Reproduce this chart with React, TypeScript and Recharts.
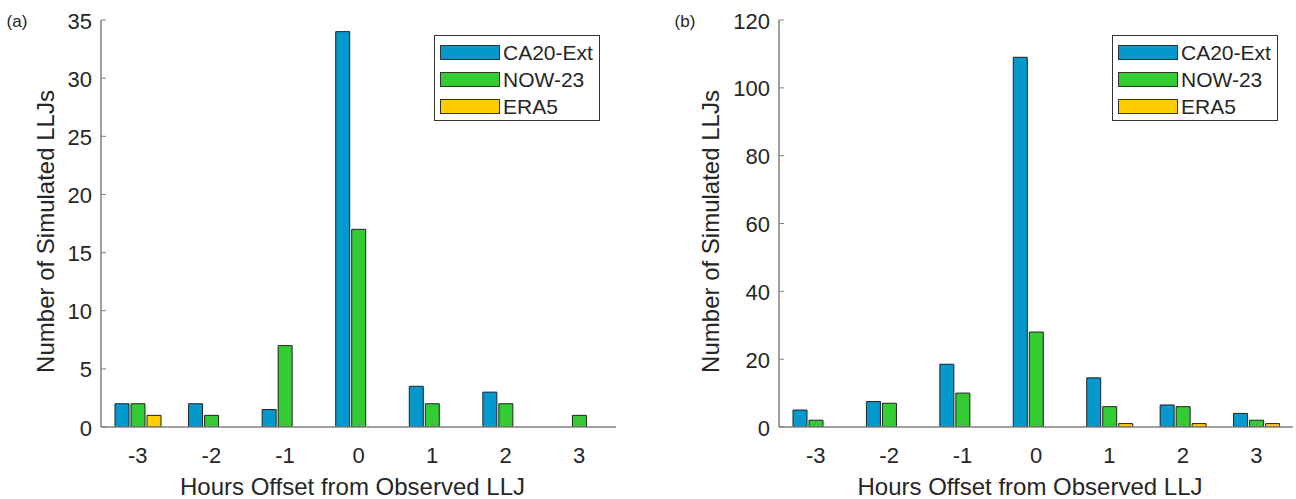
import { BarChart, Bar, XAxis, YAxis, Legend, Label } from "recharts";

const hours = [-3, -2, -1, 0, 1, 2, 3];

// panel (a)
const ca20ExtA = [2, 2, 1.5, 34, 3.5, 3, 0];
const now23A = [2, 1, 7, 17, 2, 2, 1];
const era5A = [1, 0, 0, 0, 0, 0, 0];
const yTicksA = [0, 5, 10, 15, 20, 25, 30, 35];

// panel (b)
const ca20ExtB = [5, 7.5, 18.5, 109, 14.5, 6.5, 4];
const now23B = [2, 7, 10, 28, 6, 6, 2];
const era5B = [0, 0, 0, 0, 1, 1, 1];
const yTicksB = [0, 20, 40, 60, 80, 100, 120];

const seriesNames = ["CA20-Ext", "NOW-23", "ERA5"];
const COLORS = ["#0399CC", "#33CC33", "#FFCC00"];

const FONT = "'Liberation Sans', Arial, sans-serif";
const TEXT = "#262626";
const AXIS = "#808080";

const toRows = (a: number[], b: number[], c: number[]) =>
  hours.map((h, i) => ({ hour: h, ca20: a[i], now23: b[i], era5: c[i] }));

const BottomTick = (props: any) => {
  const { x, y, payload } = props;
  return (
    <g>
      <line x1={x} y1={y} x2={x} y2={y - 5} stroke={AXIS} />
      <text x={x} y={y + 28} textAnchor="middle" dominantBaseline="central" fontSize={22} fill={TEXT} fontFamily={FONT}>
        {payload.value}
      </text>
    </g>
  );
};

const TopTick = (props: any) => {
  const { x, y } = props;
  return <line x1={x} y1={y} x2={x} y2={y + 5} stroke={AXIS} />;
};

const LeftTick = (props: any) => {
  const { x, y, payload } = props;
  return (
    <g>
      <line x1={x} y1={y} x2={x + 5} y2={y} stroke={AXIS} />
      <text x={x - 9} y={y + 1} textAnchor="end" dominantBaseline="central" fontSize={22} fill={TEXT} fontFamily={FONT}>
        {payload.value}
      </text>
    </g>
  );
};

const RightTick = (props: any) => {
  const { x, y } = props;
  return <line x1={x} y1={y} x2={x - 5} y2={y} stroke={AXIS} />;
};

const LegendBox = (props: any) => {
  const items = [...(props.payload || [])].sort(
    (a: any, b: any) => seriesNames.indexOf(a.value) - seriesNames.indexOf(b.value)
  );
  return (
    <div
      style={{
        border: "1px solid #333",
        background: "#fff",
        width: 166,
        height: 86,
        boxSizing: "border-box",
        paddingTop: 3,
        fontFamily: FONT,
        fontSize: 21,
        color: TEXT,
      }}
    >
      {items.map((entry: any) => (
        <div key={entry.value} style={{ display: "flex", alignItems: "center", height: 27 }}>
          <div
            style={{
              width: 60,
              height: 15,
              marginLeft: 5,
              marginRight: 3,
              background: entry.color,
              border: "1px solid #333",
              boxSizing: "border-box",
            }}
          />
          <span>{entry.value}</span>
        </div>
      ))}
    </div>
  );
};

type PanelProps = {
  tag: string;
  rows: any[];
  max: number;
  ticks: number[];
  width: number;
  marginLeft: number;
  marginRight: number;
  yLabelDx: number;
  tagX: number;
  legendLeft: number;
};

const Panel = ({ tag, rows, max, ticks, width, marginLeft, marginRight, yLabelDx, tagX, legendLeft }: PanelProps) => (
  <BarChart
    width={width}
    height={499}
    data={rows}
    margin={{ top: 20, right: marginRight, bottom: 32, left: marginLeft }}
    barSize={14}
    barGap={2}
    barCategoryGap="18%"
  >
    <XAxis
      dataKey="hour"
      height={40}
      stroke={AXIS}
      strokeWidth={1.5}
      tickSize={0}
      tickMargin={0}
      interval={0}
      tickLine={false}
      tick={BottomTick}
    >
      <Label
        content={(p: any) => {
          const vb = p.viewBox || {};
          return (
            <text
              x={vb.x + vb.width / 2 - 6}
              y={vb.y + 59}
              textAnchor="middle"
              dominantBaseline="central"
              fontSize={24}
              fill={TEXT}
              fontFamily={FONT}
            >
              Hours Offset from Observed LLJ
            </text>
          );
        }}
      />
    </XAxis>
    <XAxis
      xAxisId="top"
      dataKey="hour"
      orientation="top"
      height={0}
      stroke={AXIS}
      strokeWidth={1.5}
      tickSize={0}
      tickMargin={0}
      interval={0}
      tickLine={false}
      tick={TopTick}
    />
    <YAxis
      domain={[0, max]}
      ticks={ticks}
      type="number"
      width={60}
      stroke={AXIS}
      strokeWidth={1.5}
      tickSize={0}
      tickMargin={0}
      interval={0}
      tickLine={false}
      tick={LeftTick}
      allowDataOverflow
    >
      <Label
        content={(p: any) => {
          const vb = p.viewBox || {};
          const cx = vb.x + yLabelDx;
          const cy = 20 + 407 / 2 + 8;
          return (
            <g>
              <text
                x={cx}
                y={cy}
                transform={`rotate(-90 ${cx} ${cy})`}
                textAnchor="middle"
                dominantBaseline="central"
                fontSize={24}
                fill={TEXT}
                fontFamily={FONT}
              >
                Number of Simulated LLJs
              </text>
              <text x={tagX} y={21} textAnchor="middle" dominantBaseline="central" fontSize={17} fill={TEXT} fontFamily={FONT}>
                {tag}
              </text>
            </g>
          );
        }}
      />
    </YAxis>
    <YAxis
      yAxisId="right"
      orientation="right"
      domain={[0, max]}
      ticks={ticks}
      type="number"
      width={0}
      stroke={AXIS}
      strokeWidth={1.5}
      tickSize={0}
      tickMargin={0}
      interval={0}
      tickLine={false}
      tick={RightTick}
    />
    <Legend
      content={LegendBox}
      layout="horizontal"
      verticalAlign="middle"
      align="center"
      wrapperStyle={{ position: "absolute", top: 35, left: legendLeft, width: 166, height: 86 }}
    />
    <Bar dataKey="ca20" name={seriesNames[0]} fill={COLORS[0]} stroke="#222" strokeWidth={1} isAnimationActive={false} />
    <Bar dataKey="now23" name={seriesNames[1]} fill={COLORS[1]} stroke="#222" strokeWidth={1} isAnimationActive={false} />
    <Bar dataKey="era5" name={seriesNames[2]} fill={COLORS[2]} stroke="#222" strokeWidth={1} isAnimationActive={false} />
  </BarChart>
);

export default function App() {
  return (
    <div style={{ position: "fixed", left: 0, top: 0, width: 1296, height: 499, background: "#fff", display: "flex" }}>
      <Panel
        tag="(a)"
        rows={toRows(ca20ExtA, now23A, era5A)}
        max={35}
        ticks={yTicksA}
        width={650}
        marginLeft={41}
        marginRight={34}
        yLabelDx={4}
        tagX={17}
        legendLeft={434}
      />
      <Panel
        tag="(b)"
        rows={toRows(ca20ExtB, now23B, era5B)}
        max={120}
        ticks={yTicksB}
        width={646}
        marginLeft={69}
        marginRight={3}
        yLabelDx={-9}
        tagX={35}
        legendLeft={462}
      />
    </div>
  );
}
